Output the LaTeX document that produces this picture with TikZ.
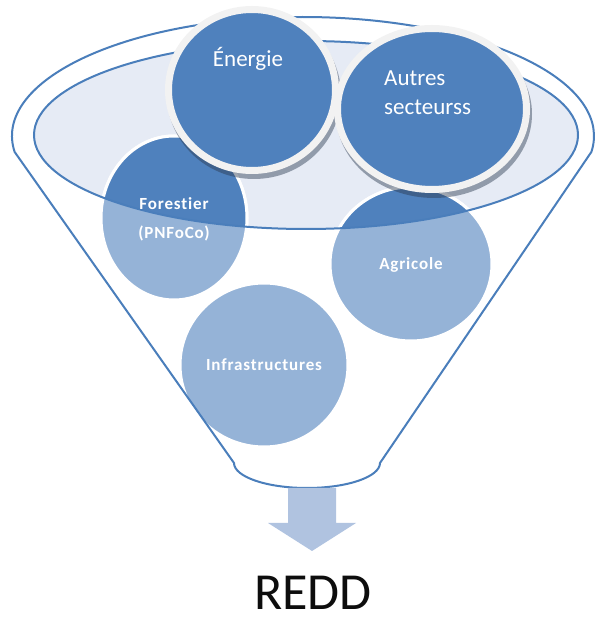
\documentclass[tikz,border=0pt]{standalone}
\usepackage{fontspec}
\setmainfont{Carlito}
\newfontfamily\lblfont[LetterSpace=5, Ligatures={NoCommon}]{Carlito}
\usetikzlibrary{calc}
\begin{document}
\begin{tikzpicture}[x=1pt,y=1pt]
\definecolor{dkblue}{HTML}{4F81BD}
\definecolor{ltblue}{HTML}{95B3D7}
\definecolor{bowlfill}{HTML}{E6EBF5}
\definecolor{edgec}{HTML}{4A7EBB}
\definecolor{ringc}{HTML}{F2F2F2}
\definecolor{arrowc}{HTML}{B0C3E0}
\definecolor{shadowc}{HTML}{2B3A50}
\tikzset{
  edgeline/.style={draw=edgec, line width=2},
  lowdisc/.style={fill=ltblue, draw=white, line width=3},
  topdisc/.style={fill=dkblue, draw=ringc, line width=7},
  topshadow/.style={fill=shadowc, opacity=0.45},
  toptxt/.style={text=white, inner sep=0, font=\fontsize{23}{29}\selectfont},
  lowtxt/.style={text=white, inner sep=0, font=\lblfont\bfseries\fontsize{17}{29}\selectfont},
}
\useasboundingbox (0,0) rectangle (596,619);
\coordinate (bowl) at (306,484);
\coordinate (rim) at (303,483);
\coordinate (bot) at (307,156);
\coordinate (en) at (252,529);
\coordinate (au) at (432,510);
\coordinate (fo) at (174,401);
\coordinate (ag) at (411,355);
\coordinate (in) at (264,254);
% bowl fill
\fill[bowlfill] (bowl) ellipse [x radius=272, y radius=94];
% lower discs
\filldraw[lowdisc] (fo) ellipse [x radius=73, y radius=82];
\filldraw[lowdisc] (ag) ellipse [x radius=81, y radius=77];
\filldraw[lowdisc] (in) ellipse [x radius=84, y radius=82];
\begin{scope}
  \clip (bowl) ellipse [x radius=272, y radius=94];
  \filldraw[lowdisc, fill=dkblue] (fo) ellipse [x radius=73, y radius=82];
  \filldraw[lowdisc, fill=dkblue] (ag) ellipse [x radius=81, y radius=77];
\end{scope}
\draw[edgeline] (bowl) ellipse [x radius=272, y radius=94];
% funnel outline
\draw[edgeline, line join=round] ($(rim)+(187.7:291 and 119)$)
  arc[start angle=187.7, end angle=-7.7, x radius=291, y radius=119]
  -- ($(bot)+(73,0)$)
  arc[start angle=0, end angle=-180, x radius=73, y radius=25]
  -- cycle;
% top discs
\fill[topshadow] ($(en)+(2,-5)$) ellipse [x radius=87, y radius=84];
\filldraw[topdisc] (en) ellipse [x radius=83.5, y radius=80.5];
\fill[topshadow] ($(au)+(2,-5)$) ellipse [x radius=98, y radius=84];
\filldraw[topdisc] (au) ellipse [x radius=94.5, y radius=80.5];
% texts
\node[toptxt] (tEn) at (248,560) {Énergie};
\node[toptxt, anchor=west, align=left] (tAu) at (384,526) {Autres\\secteurss};
\node[lowtxt, align=center] (tFo) at (174,399.5) {Forestier\\(PNFoCo)};
\node[lowtxt] (tAg) at (411,354) {Agricole};
\node[lowtxt] (tIn) at (264,254) {Infrastructures};
% arrow
\fill[arrowc] (288,131) -- (288,96) -- (268,96) -- (312,68) -- (356,96) -- (336,96) -- (336,131) -- cycle;
\node[font=\fontsize{52}{58}\selectfont, text=black!95, inner sep=0] (redd) at (313,26) {REDD};
\end{tikzpicture}
\end{document}
